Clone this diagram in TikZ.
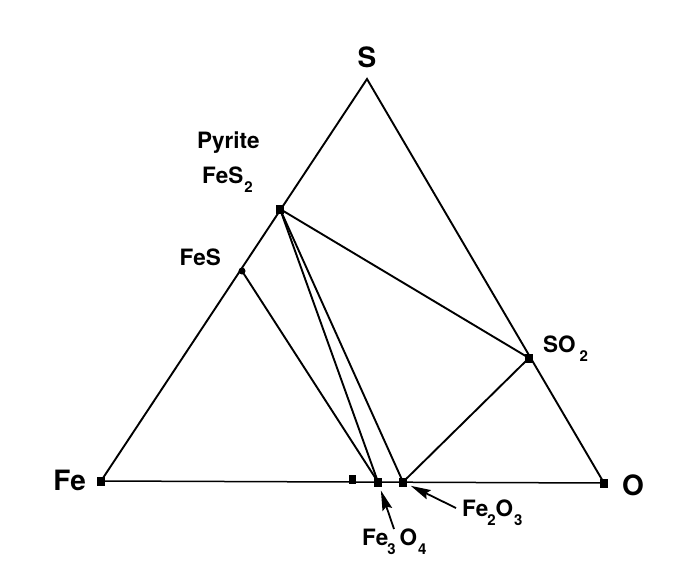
\documentclass[tikz,border=0pt]{standalone}
\usepackage{fontspec}
\setmainfont{TeX Gyre Heros}
\usetikzlibrary{positioning, arrows.meta}

% lowered subscript, as in the figure
\newcommand{\chsub}[1]{\raisebox{-9pt}{\fontsize{15}{17}\selectfont\bfseries #1}}

\begin{document}
\begin{tikzpicture}[x=1pt, y=-1pt, >={Stealth[length=20pt, width=10pt, inset=3pt]},
    pt/.style={fill, inner sep=0pt, minimum width=8pt, minimum height=9pt},
    lbl/.style={inner sep=0pt, font=\fontsize{22.5}{26}\selectfont\bfseries},
    biglbl/.style={inner sep=0pt, font=\fontsize{28}{32}\selectfont\bfseries},
    side/.style={line width=1.9pt},
    tie/.style={line width=1.9pt}]
    \useasboundingbox (0,0) rectangle (682,560);
    % ---------------- corners Fe, S, O
    \node[pt] (fe) at (101,481) {};
    \node[pt] (o) at (604,483) {};
    \coordinate (s) at (367,79);
    \draw[side, line join=miter] (fe.center) -- (s) -- (o.center);
    \draw[line width=1.5pt] (fe.center) -- (o.center);
    % ---------------- compounds
    \node[pt] (pyr) at (280,209) {};
    \node[pt, circle, minimum size=7pt] (fes) at (242,271) {};
    \node[pt] (so2) at (529,358) {};
    \node[pt] (magn) at (378,482) {};
    \node[pt] (hem) at (403,482) {};
    \node[pt, minimum width=7pt] (wus) at (352,479) {};
    % tie lines
    \draw[tie] (pyr.center) -- (so2.center);
    \draw[tie] (pyr.center) -- (magn.center);
    \draw[tie] (pyr.center) -- (hem.center);
    \draw[tie] (fes.center) -- (magn.center);
    \draw[tie] (so2.center) -- (hem.center);
    % ---------------- labels
    \node[biglbl, anchor=base] (slbl) at (367,67) {S};
    \node[biglbl, anchor=base east] (felbl) at (86,490) {Fe};
    \node[biglbl, anchor=base west] (olbl) at (622,495) {O};
    \node[lbl, anchor=base west] (pyrlbl) at (197,148) {Pyrite};
    \node[lbl, anchor=base west] (pyrfml) at (202,183) {FeS\kern1pt\chsub{2}};
    \node[lbl, anchor=base east] (feslbl) at (221,265) {FeS};
    \node[lbl, anchor=base west] (so2lbl) at (543,352) {SO\kern4pt\chsub{2}};
    \node[lbl, anchor=base west] (hemlbl) at (462,516) {Fe\kern-1pt\chsub{2}O\kern1pt\chsub{3}};
    \node[lbl, anchor=base west] (magnlbl) at (362,545) {Fe\kern-1pt\chsub{3}\kern4pt O\kern1pt\chsub{4}};
    % arrows to the oxides
    \coordinate (magntail) at (394,529);
    \coordinate (hemtail) at (456,508);
    \draw[->, line width=1.8pt, shorten >=4pt] (magntail) -- (magn);
    \draw[->, line width=1.8pt, shorten >=4pt] (hemtail) -- (hem);
\end{tikzpicture}
\end{document}
